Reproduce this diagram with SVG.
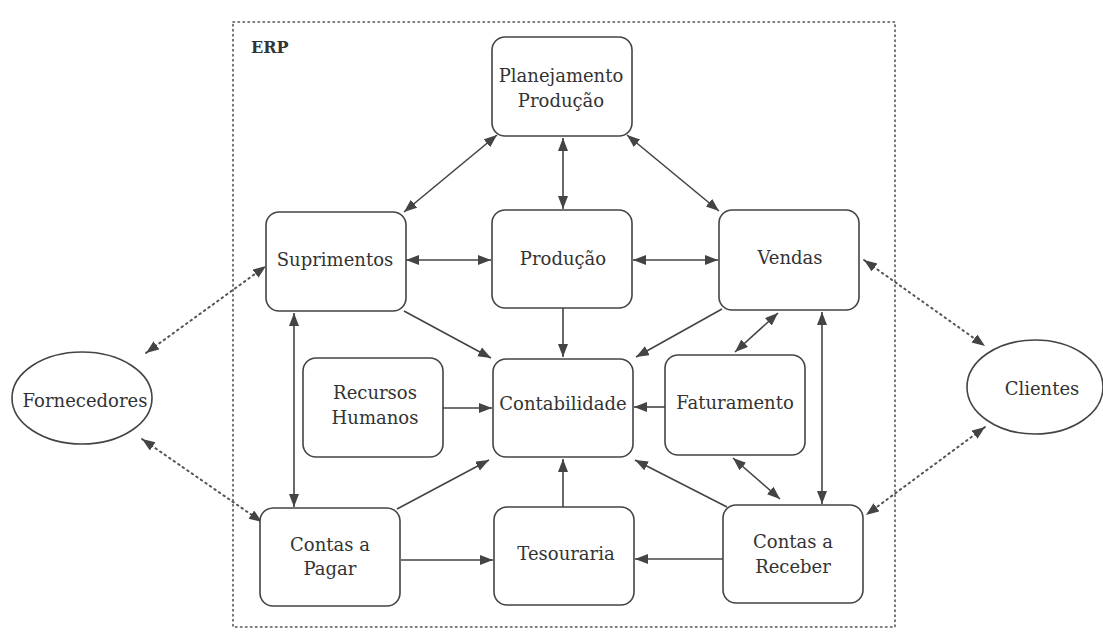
<svg xmlns="http://www.w3.org/2000/svg" width="1103" height="634" viewBox="0 0 1103 634">
<style>
.box{fill:#fff;stroke:#444;stroke-width:1.6}
.t{font-family:"DejaVu Serif","Liberation Serif",serif;font-size:18px;fill:#333;text-anchor:middle}
.c{stroke:#444;stroke-width:1.6;fill:none}
.d{stroke:#555;stroke-width:2;fill:none;stroke-dasharray:1.5 4;stroke-linecap:round}
</style>
<defs>
<marker id="ah" markerUnits="userSpaceOnUse" markerWidth="14" markerHeight="12" refX="13" refY="5" orient="auto-start-reverse">
<path d="M0,0 L13,5 L0,10 z" fill="#444"/>
</marker>
</defs>
<rect width="1103" height="634" fill="#fff"/>
<g id="erp">
<rect x="233" y="22" width="662" height="605" fill="none" stroke="#555" stroke-width="1.6" stroke-dasharray="1.5 3.5" stroke-linecap="round"/>
<text x="251" y="53" style="font-family:'DejaVu Serif','Liberation Serif',serif;font-size:16px;font-weight:bold;fill:#333">ERP</text>
</g>
<g id="connectors">
<path class="c" d="M497,135 L404,212" marker-start="url(#ah)" marker-end="url(#ah)"/>
<path class="c" d="M563,138 L563,209" marker-start="url(#ah)" marker-end="url(#ah)"/>
<path class="c" d="M627,135 L719,211" marker-start="url(#ah)" marker-end="url(#ah)"/>
<path class="c" d="M406,260 L491,260" marker-start="url(#ah)" marker-end="url(#ah)"/>
<path class="c" d="M633,260 L718,260" marker-start="url(#ah)" marker-end="url(#ah)"/>
<path class="c" d="M404,311 L491,358" marker-end="url(#ah)"/>
<path class="c" d="M563,308 L563,357" marker-end="url(#ah)"/>
<path class="c" d="M722,309 L636,357" marker-end="url(#ah)"/>
<path class="c" d="M778,313 L735,352" marker-start="url(#ah)" marker-end="url(#ah)"/>
<path class="c" d="M822,312 L822,504" marker-start="url(#ah)" marker-end="url(#ah)"/>
<path class="c" d="M665,407 L634,407" marker-end="url(#ah)"/>
<path class="c" d="M443,408 L492,408" marker-end="url(#ah)"/>
<path class="c" d="M733,458 L780,499" marker-start="url(#ah)" marker-end="url(#ah)"/>
<path class="c" d="M727,507 L635,460" marker-end="url(#ah)"/>
<path class="c" d="M563,507 L563,459" marker-end="url(#ah)"/>
<path class="c" d="M397,509 L489,460" marker-end="url(#ah)"/>
<path class="c" d="M401,560 L493,560" marker-end="url(#ah)"/>
<path class="c" d="M723,559 L635,559" marker-end="url(#ah)"/>
<path class="c" d="M294,313 L294,507" marker-start="url(#ah)" marker-end="url(#ah)"/>
<path class="d" d="M146,353 L266,266" marker-start="url(#ah)" marker-end="url(#ah)"/>
<path class="d" d="M142,439 L262,522" marker-start="url(#ah)" marker-end="url(#ah)"/>
<path class="d" d="M864,260 L985,346" marker-start="url(#ah)" marker-end="url(#ah)"/>
<path class="d" d="M985,427 L866,515" marker-start="url(#ah)" marker-end="url(#ah)"/>
</g>
<g id="planejamento"><rect class="box" x="492" y="37" width="140" height="99" rx="13"/><text class="t" x="561" y="82">Planejamento</text><text class="t" x="561" y="107">Produção</text></g>
<g id="suprimentos"><rect class="box" x="266" y="212" width="140" height="99" rx="13"/><text class="t" x="335" y="266">Suprimentos</text></g>
<g id="producao"><rect class="box" x="492" y="210" width="140" height="98" rx="13"/><text class="t" x="563" y="265">Produção</text></g>
<g id="vendas"><rect class="box" x="719" y="210" width="140" height="100" rx="13"/><text class="t" x="790" y="264">Vendas</text></g>
<g id="rh"><rect class="box" x="303" y="358" width="140" height="99" rx="13"/><text class="t" x="375" y="399">Recursos</text><text class="t" x="375" y="424">Humanos</text></g>
<g id="contabilidade"><rect class="box" x="493" y="359" width="140" height="98" rx="13"/><text class="t" x="563" y="410">Contabilidade</text></g>
<g id="faturamento"><rect class="box" x="665" y="355" width="140" height="100" rx="13"/><text class="t" x="735" y="409">Faturamento</text></g>
<g id="contaspagar"><rect class="box" x="260" y="508" width="140" height="98" rx="13"/><text class="t" x="330" y="551">Contas a</text><text class="t" x="330" y="575">Pagar</text></g>
<g id="tesouraria"><rect class="box" x="494" y="507" width="140" height="98" rx="13"/><text class="t" x="566" y="560">Tesouraria</text></g>
<g id="contasreceber"><rect class="box" x="723" y="505" width="140" height="98" rx="13"/><text class="t" x="793" y="548">Contas a</text><text class="t" x="793" y="573">Receber</text></g>
<g id="fornecedores"><ellipse class="box" cx="82" cy="398" rx="70" ry="46"/><text class="t" x="85" y="407">Fornecedores</text></g>
<g id="clientes"><ellipse class="box" cx="1035" cy="387" rx="68" ry="47"/><text class="t" x="1042" y="395">Clientes</text></g>
</svg>
